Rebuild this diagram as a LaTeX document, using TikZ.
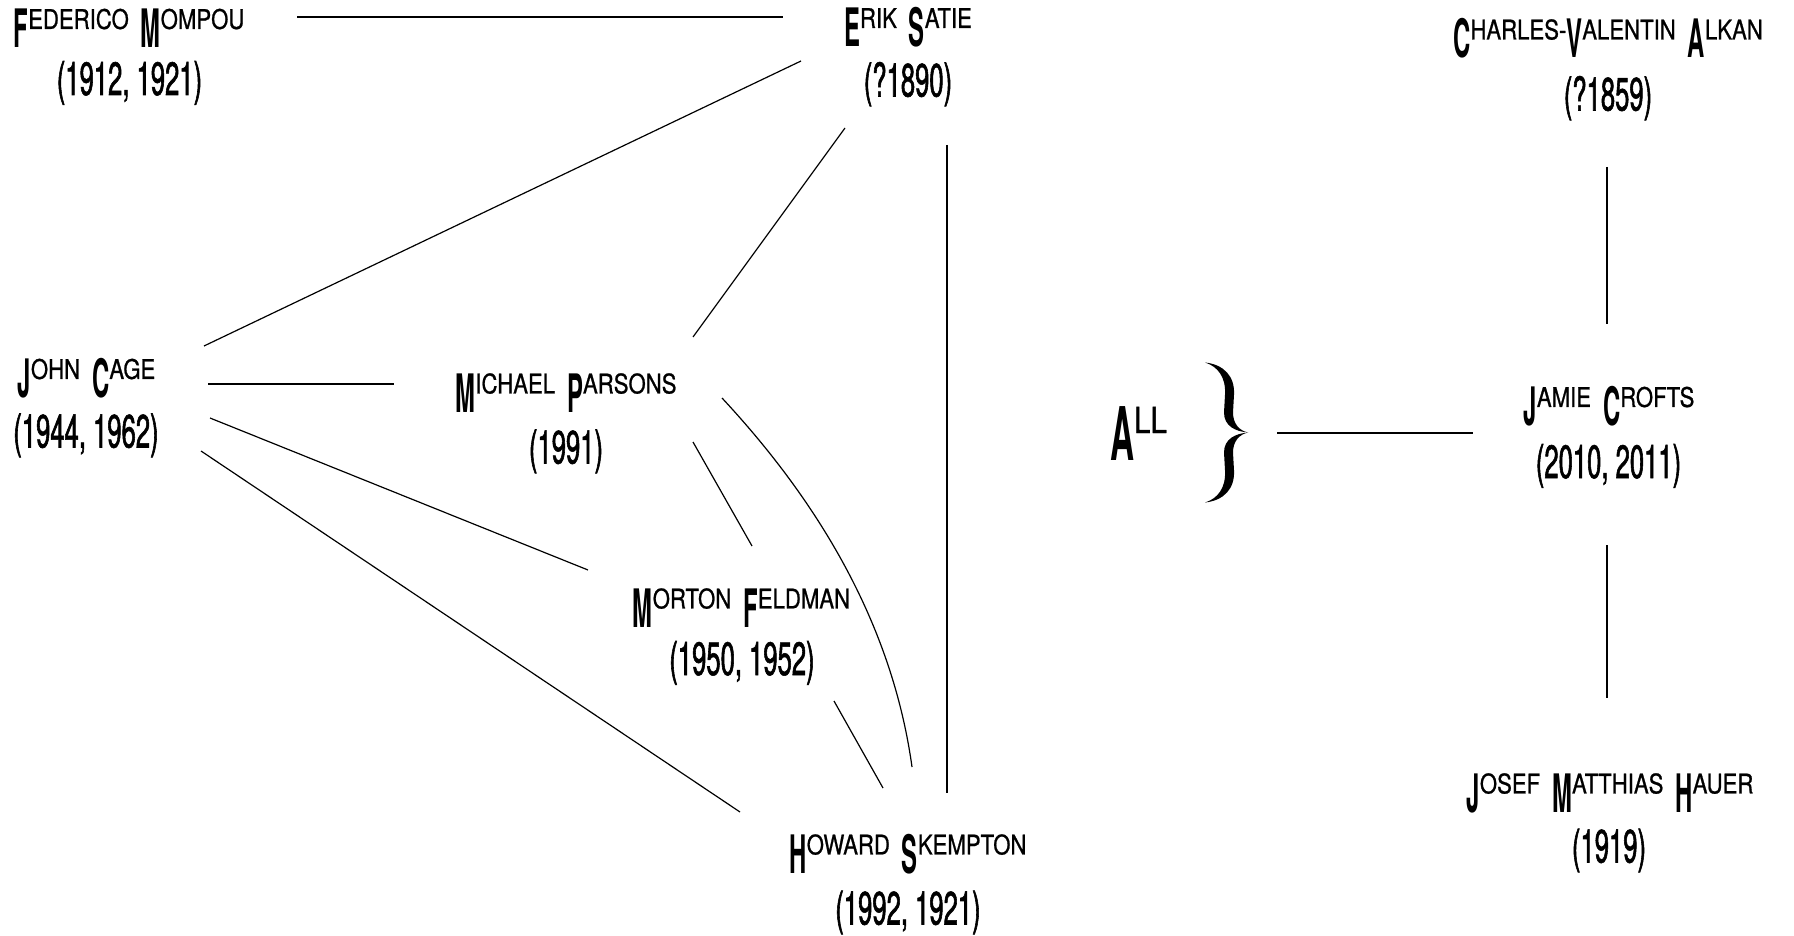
\documentclass[tikz,border=0pt]{standalone}
\usepackage{fontspec}
\setmainfont{TeX Gyre Heros}
\newfontfamily\initfont[FakeStretch=0.45]{TeX Gyre Heros}
\newfontfamily\restfont[FakeStretch=0.82,FakeBold=0.8]{TeX Gyre Heros}
\newfontfamily\yearfont[FakeStretch=0.55,FakeBold=1.2]{TeX Gyre Heros}
% big initial, the rest in small capitals aligned at the top
\newcommand\nm[2]{{\initfont\bfseries\fontsize{26.5}{27}\selectfont #1}\raisebox{9.3pt}{\restfont\fontsize{13.5}{14}\selectfont #2}}
\newcommand\nmbig[2]{{\initfont\bfseries\fontsize{37}{37}\selectfont #1}\raisebox{13.5pt}{\restfont\fontsize{18}{18}\selectfont #2}}

\begin{document}
\begin{tikzpicture}[x=0.5pt,y=-0.5pt,
  composer/.style={inner sep=0pt,text height=19pt,text depth=0pt,font={\restfont\fontsize{12.5}{13}\selectfont\spaceskip=6pt}},
  years/.style={inner sep=0pt,text height=16.5pt,text depth=0pt,font=\yearfont\fontsize{23.3}{24}\selectfont},
  bracebox/.style={inner sep=0pt,minimum width=21pt,minimum height=70pt},
  link/.style={line width=0.6pt}]
\useasboundingbox (0,0) rectangle (1794,936);
% left group
\node[composer] (mompou) at (129,28.5) {\nm{F}{EDERICO} \nm{M}{OMPOU}};
\node[years] (mompouyr) at (129.5,78.5) {(1912, 1921)};
\node[composer] (satie) at (908,27.5) {\nm{E}{RIK} \nm{S}{ATIE}};
\node[years] (satieyr) at (908,80) {(?1890)};
\node[composer] (cage) at (86.5,378.5) {\nm{J}{OHN} \nm{C}{AGE}};
\node[years] (cageyr) at (86,431) {(1944, 1962)};
\node[composer] (parsons) at (566,393) {\nm{M}{ICHAEL} \nm{P}{ARSONS}};
\node[years] (parsonsyr) at (566,447) {(1991)};
\node[composer] (feldman) at (741.5,608) {\nm{M}{ORTON} \nm{F}{ELDMAN}};
\node[years] (feldmanyr) at (742,658.5) {(1950, 1952)};
\node[composer] (skempton) at (908,854) {\nm{H}{OWARD} \nm{S}{KEMPTON}};
\node[years] (skemptonyr) at (908,908) {(1992, 1921)};
% right group
\node[composer,text height=26.5pt] (all) at (1138.5,433.5) {\nmbig{A}{LL}};
\node[bracebox] (brace) at (1226,432.5) {};
\foreach \s in {1,-1}
  \fill[shift={(brace.center)},yscale=\s] (-21,-70) .. controls (-2,-68) and (9,-56) .. (8,-38)
    -- (7,-20) .. controls (7,-9) and (13,-2) .. (22,0)
    .. controls (10,-1) and (-2,-6) .. (-2,-20)
    -- (-1,-38) .. controls (0,-55) and (-8,-66) .. (-21,-70) -- cycle;
\node[composer] (alkan) at (1608,39) {\nm{C}{HARLES-}\nm{V}{ALENTIN} \nm{A}{LKAN}};
\node[years] (alkanyr) at (1608,94) {(?1859)};
\node[composer] (crofts) at (1609,406.5) {\nm{J}{AMIE} \nm{C}{ROFTS}};
\node[years] (croftsyr) at (1608.5,461.5) {(2010, 2011)};
\node[composer] (hauer) at (1610,793) {\nm{J}{OSEF} \nm{M}{ATTHIAS} \nm{H}{AUER}};
\node[years] (haueryr) at (1609,846) {(1919)};
% links
\draw[link] ([shift={(168,-11.5)}]mompou.center) -- ([shift={(-125,-10.5)}]satie.center);
\draw[link] ([shift={(-107,33.5)}]satie.center) -- ([shift={(117.5,-32.5)}]cage.center);
\draw[link] ([shift={(-63,48)}]satieyr.center) -- ([shift={(127,-56)}]parsons.center);
\draw[link] ([shift={(39,65)}]satieyr.center) -- ([shift={(39,-61)}]skempton.center);
\draw[link] ([shift={(121.5,5.5)}]cage.center) -- ([shift={(-172,-9)}]parsons.center);
\draw[link] ([shift={(124,-13)}]cageyr.center) -- ([shift={(-153.5,-38)}]feldman.center);
\draw[link] ([shift={(115,20)}]cageyr.center) -- ([shift={(-168,-42)}]skempton.center);
\draw[link] ([shift={(127,-5)}]parsonsyr.center) -- ([shift={(10.5,-62)}]feldman.center);
\draw[link] ([shift={(156,5)}]parsons.center) .. controls +(108,116) and +(-18,-130) .. ([shift={(4,-87)}]skempton.center);
\draw[link] ([shift={(92,42.5)}]feldmanyr.center) -- ([shift={(-25,-66)}]skempton.center);
\draw[link] ([shift={(51,0.5)}]brace.center) -- ([shift={(-136,26.5)}]crofts.center);
\draw[link] ([shift={(-1,73)}]alkanyr.center) -- ([shift={(-2,-82.5)}]crofts.center);
\draw[link] ([shift={(-1.5,83.5)}]croftsyr.center) -- ([shift={(-3,-95)}]hauer.center);
\end{tikzpicture}
\end{document}
